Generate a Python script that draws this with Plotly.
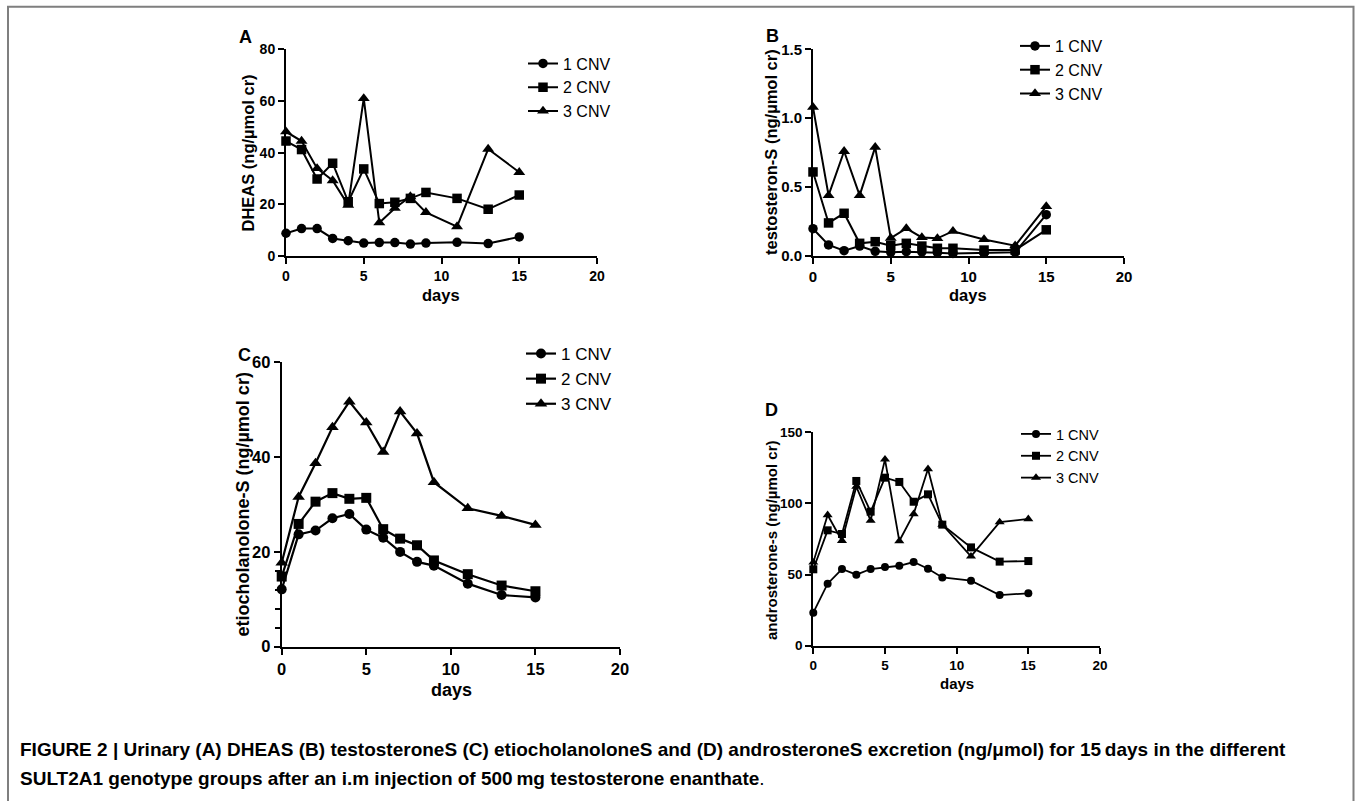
import plotly.graph_objects as go

W, H = 1356, 801

days = [0, 1, 2, 3, 4, 5, 6, 7, 8, 9, 11, 13, 15]
series_names = ["1 CNV", "2 CNV", "3 CNV"]

dheas_1 = [8.8, 10.6, 10.6, 6.8, 5.9, 5.0, 5.2, 5.2, 4.6, 5.0, 5.3, 4.8, 7.4]
dheas_2 = [44.5, 41.2, 29.8, 35.9, 21.0, 33.7, 20.3, 20.8, 22.3, 24.6, 22.3, 18.1, 23.6]
dheas_3 = [48.1, 44.5, 33.9, 29.2, 19.7, 61.0, 12.9, 18.5, 23.0, 16.9, 11.4, 41.4, 32.4]

testo_1 = [0.198, 0.08, 0.039, 0.072, 0.034, 0.027, 0.031, 0.029, 0.024, 0.019, 0.022, 0.027, 0.30]
testo_2 = [0.61, 0.24, 0.31, 0.092, 0.104, 0.075, 0.092, 0.072, 0.056, 0.056, 0.043, 0.043, 0.19]
testo_3 = [1.08, 0.44, 0.76, 0.44, 0.79, 0.13, 0.20, 0.135, 0.128, 0.18, 0.12, 0.075, 0.36]

etio_1 = [12.1, 23.7, 24.5, 27.1, 28.0, 24.7, 23.0, 20.0, 17.9, 17.1, 13.3, 10.9, 10.4]
etio_2 = [14.8, 25.9, 30.6, 32.4, 31.2, 31.4, 24.8, 22.8, 21.4, 18.2, 15.3, 12.9, 11.7]
etio_3 = [17.7, 31.6, 38.7, 46.3, 51.7, 47.3, 41.1, 49.6, 45.0, 34.7, 29.2, 27.6, 25.7]

andro_1 = [23.2, 43.6, 53.9, 49.9, 53.9, 55.3, 56.2, 58.8, 54.1, 48.0, 45.7, 35.6, 36.8]
andro_2 = [53.7, 81.1, 78.5, 115.8, 94.2, 118.1, 115.1, 101.2, 106.4, 85.1, 69.1, 59.1, 59.5]
andro_3 = [58.6, 91.9, 73.8, 111.8, 87.9, 131.0, 73.6, 92.6, 124.2, 85.1, 62.8, 86.9, 89.1]

x_ticks = [0, 5, 10, 15, 20]
a_yticks = [0, 20, 40, 60, 80]
b_yticks = [0.0, 0.5, 1.0, 1.5]
c_yticks = [0, 20, 40, 60]
c_minor = [4, 8, 12, 16]
d_yticks = [0, 50, 100, 150]

titles_y = ["DHEAS (ng/µmol cr)", "testosteron-S (ng/µmol cr)",
            "etiocholanolone-S (ng/µmol cr)", "androsterone-s (ng/µmol cr)"]
panel_letters = ["A", "B", "C", "D"]
caption_1 = ("FIGURE 2 | Urinary (A) DHEAS (B) testosteroneS (C) etiocholanoloneS and (D) "
             "androsteroneS excretion (ng/\u03bcmol) for 15\u2009days in the different")
caption_2 = ("SULT2A1 genotype groups after an i.m injection of 500\u2009mg testosterone enanthate")

FONT = "Liberation Sans, Arial, Helvetica, sans-serif"


def px_x(p):
    return p / W


def px_y(p):
    return 1 - p / H


# panel geometry in page pixels: (left, right, top, bottom)
panels = [
    dict(box=(286, 597, 49.3, 256), ymax=80, yt=a_yticks, fmt="d", tick=14, title=16.5, leg=16,
         ms=9.5, lw=2, legpos=(523, 46.5), ytitle=(247, 152.5), xtitle=(441, 295), letter=(245, 37),
         data=[dheas_1, dheas_2, dheas_3]),
    dict(box=(813, 1124, 49.3, 256), ymax=1.5, yt=b_yticks, fmt=".1f", tick=15, title=16.5, leg=16,
         ms=9.5, lw=2, legpos=(1015, 29), ytitle=(771, 152), xtitle=(968, 295), letter=(772, 36),
         data=[testo_1, testo_2, testo_3]),
    dict(box=(281.7, 620, 362.3, 646.7), ymax=60, yt=c_yticks, fmt="d", tick=16.5, title=18, leg=17,
         ms=10, lw=2.2, legpos=(521, 336), ytitle=(242.5, 505), xtitle=(451, 690), letter=(244, 355),
         data=[etio_1, etio_2, etio_3]),
    dict(box=(813.3, 1100, 432.3, 645.7), ymax=150, yt=d_yticks, fmt="d", tick=13.5, title=15, leg=14.5,
         ms=8, lw=1.8, legpos=(1016, 418), ytitle=(771, 540), xtitle=(956.5, 683), letter=(771, 410),
         data=[andro_1, andro_2, andro_3]),
]

symbols = ["circle", "square", "triangle-up"]
sym_scale = [1.0, 1.0, 1.1]

fig = go.Figure()
layout = dict(
    width=W, height=H,
    margin=dict(l=0, r=0, t=0, b=0),
    paper_bgcolor="white", plot_bgcolor="white",
    font=dict(family=FONT, color="black"),
    showlegend=True,
)
annotations = []

for i, p in enumerate(panels):
    n = i + 1
    sx = "" if n == 1 else str(n)
    l, r, t, b = p["box"]
    legname = "legend" if n == 1 else f"legend{n}"
    for k in range(3):
        fig.add_trace(go.Scatter(
            x=days, y=p["data"][k], name=series_names[k],
            mode="lines+markers",
            line=dict(color="black", width=p["lw"]),
            marker=dict(symbol=symbols[k], size=p["ms"] * sym_scale[k], color="black",
                        line=dict(width=0)),
            xaxis="x" + sx, yaxis="y" + sx, legend=legname,
            cliponaxis=False,
        ))
    xa = dict(
        domain=[px_x(l), px_x(r)], range=[0, 20], anchor="y" + sx,
        tickmode="array", tickvals=x_ticks,
        showline=True, linecolor="black", linewidth=2,
        ticks="outside", ticklen=6, tickwidth=2, tickcolor="black",
        showgrid=False, zeroline=False, automargin=False,
        tickfont=dict(family=FONT, size=p["tick"], color="black", weight="bold"),
    )
    ya = dict(
        domain=[px_y(b), px_y(t)], range=[0, p["ymax"]], anchor="x" + sx,
        tickmode="array", tickvals=p["yt"],
        tickformat=p["fmt"],
        showline=True, linecolor="black", linewidth=2,
        ticks="outside", ticklen=6, tickwidth=2, tickcolor="black",
        showgrid=False, zeroline=False, automargin=False,
        tickfont=dict(family=FONT, size=p["tick"], color="black", weight="bold"),
    )
    if n == 3:
        ya["minor"] = dict(tickmode="array", tickvals=c_minor, ticks="outside",
                           ticklen=5, tickwidth=2, tickcolor="black", showgrid=False)
    layout["xaxis" + sx] = xa
    layout["yaxis" + sx] = ya
    lx, ly = p["legpos"]
    layout[legname] = dict(
        x=px_x(lx), y=px_y(ly), xanchor="left", yanchor="top",
        bgcolor="rgba(0,0,0,0)", borderwidth=0,
        font=dict(family=FONT, size=p["leg"], color="black"),
        itemclick=False, itemdoubleclick=False,
    )
    yx, yy = p["ytitle"]
    annotations.append(dict(text=f"<b>{titles_y[i]}</b>", x=px_x(yx), y=px_y(yy),
                            xref="paper", yref="paper", showarrow=False, textangle=-90,
                            xanchor="center", yanchor="middle",
                            font=dict(family=FONT, size=p["title"], color="black")))
    xx, xy = p["xtitle"]
    annotations.append(dict(text="<b>days</b>", x=px_x(xx), y=px_y(xy),
                            xref="paper", yref="paper", showarrow=False,
                            xanchor="center", yanchor="middle",
                            font=dict(family=FONT, size=p["title"], color="black")))
    ax_, ay_ = p["letter"]
    annotations.append(dict(text=f"<b>{panel_letters[i]}</b>", x=px_x(ax_), y=px_y(ay_),
                            xref="paper", yref="paper", showarrow=False,
                            xanchor="center", yanchor="middle",
                            font=dict(family=FONT, size=18, color="black")))

annotations.append(dict(text=f"<b>{caption_1}</b>", x=px_x(18), y=px_y(749),
                        xref="paper", yref="paper", showarrow=False,
                        xanchor="left", yanchor="middle",
                        font=dict(family=FONT, size=19, color="black")))
annotations.append(dict(text=f"<b>{caption_2}</b>.", x=px_x(18), y=px_y(778),
                        xref="paper", yref="paper", showarrow=False,
                        xanchor="left", yanchor="middle",
                        font=dict(family=FONT, size=19, color="black")))
layout["annotations"] = annotations
layout["shapes"] = [dict(type="rect", xref="paper", yref="paper",
                         x0=px_x(8), x1=px_x(1353.5), y0=px_y(830), y1=px_y(6.7),
                         line=dict(color="#7f7f7f", width=2), fillcolor="rgba(0,0,0,0)",
                         layer="below")]

fig.update_layout(**layout)
# remove the default page margin so the 1356x801 figure fills the window exactly
fig.write_html("out.html",
               config={"displayModeBar": False},
               post_script="document.body.style.margin='0';document.body.style.overflow='hidden';")
